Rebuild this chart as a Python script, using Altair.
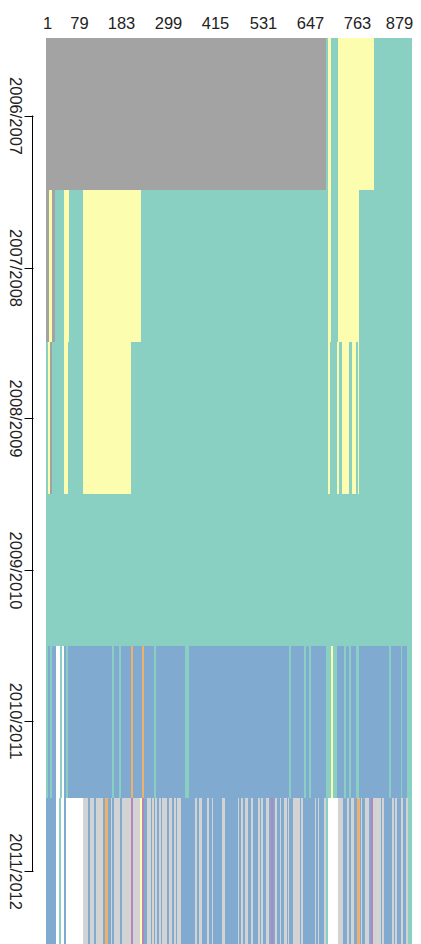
import altair as alt
import pandas as pd

years = ["2006/2007", "2007/2008", "2008/2009", "2009/2010", "2010/2011", "2011/2012"]
tick_rows = [0.51, 1.51, 2.5, 3.5, 4.49, 5.48]
column_ticks = [1, 79, 183, 299, 415, 531, 647, 763, 879]
first_col = -2.2
last_col = 899

T, Y, G, B, L, O, P, W = "teal", "yellow", "gray", "blue", "light", "orange", "purple", "white"
state_names = [T, Y, G, B, L, O, P, W]
state_colors = ["#89CFC2", "#FDFDB0", "#A3A3A3", "#81AAD1", "#D3D3D3", "#F0B06A", "#B884BC", "#FFFFFF"]

row0_states = [G, T, Y, T, Y, T]
row0_ends = [688, 691, 700, 716, 805, 899]

row1_states = [G, Y, G, T, Y, T, Y, T, Y, T, Y, T]
row1_ends = [6, 12, 19, 43, 55, 88, 231, 691, 700, 716, 768, 899]

row2_states = [T, Y, G, T, Y, T, Y, T, Y, T, Y, T, Y, T, Y, T, Y, T]
row2_ends = [3, 8, 12, 43, 53, 88, 207, 691, 696, 715, 720, 727, 743, 752, 760, 765, 769, 899]

row3_states = [T]
row3_ends = [899]

row4_states = [T, B, T, B, W, T, W, B, T, B, T, B, T, B, O, B, O, B, T, B, T,
               B, T, B, T, B, T, B, T, Y, T, B, T, B, T, B, T, B, T, B, T, B, T]
row4_ends = [2, 7, 12, 22, 32, 37, 43, 48, 52, 161, 165, 178, 183, 207, 211, 235, 239, 263, 268, 341, 349,
             597, 602, 634, 639, 646, 651, 688, 699, 704, 715, 732, 737, 744, 748, 760, 768, 842, 847, 871, 875, 887, 899]

row5_pairs = [
    (B, 22), (W, 31), (T, 34), (W, 43), (B, 47), (W, 88), (L, 101), (B, 105), (L, 117), (B, 121),
    (L, 138), (B, 143), (O, 150), (B, 157), (L, 161), (B, 166), (L, 179), (B, 186), (L, 207), (P, 212),
    (L, 230), (Y, 234), (P, 239), (B, 247), (L, 256), (B, 259), (L, 263), (B, 267), (L, 271), (B, 276),
    (L, 280), (B, 284), (L, 296), (B, 300), (L, 308), (B, 313), (L, 317), (B, 321), (L, 329), (B, 365),
    (L, 370), (B, 374), (L, 382), (B, 394), (L, 399), (B, 406), (L, 410), (B, 430), (L, 438), (B, 470),
    (L, 474), (B, 479), (L, 484), (B, 488), (L, 496), (B, 503), (L, 508), (B, 519), (L, 525), (B, 528),
    (L, 532), (B, 540), (L, 548), (B, 552), (P, 557), (B, 562), (L, 566), (B, 573), (L, 577), (B, 585),
    (L, 590), (B, 593), (L, 597), (B, 605), (L, 622), (B, 626), (L, 630), (B, 659), (L, 663), (B, 667),
    (L, 671), (B, 682), (L, 688), (T, 693), (W, 716), (L, 728), (B, 740), (L, 744), (B, 748), (L, 756),
    (B, 764), (O, 770), (B, 773), (L, 777), (B, 784), (L, 793), (B, 797), (P, 802), (L, 822), (B, 825),
    (L, 829), (B, 850), (L, 854), (B, 858), (L, 863), (B, 873), (L, 878), (B, 883), (L, 888), (B, 890),
    (T, 899),
]

rows = [
    list(zip(row0_states, row0_ends)),
    list(zip(row1_states, row1_ends)),
    list(zip(row2_states, row2_ends)),
    list(zip(row3_states, row3_ends)),
    list(zip(row4_states, row4_ends)),
    row5_pairs,
]

records = []
for r, segs in enumerate(rows):
    start = first_col
    for state, end in segs:
        records.append({"c0": start, "c1": end, "r0": r, "r1": r + 1, "state": state})
        start = end
df = pd.DataFrame(records)

FONT = "Liberation Sans"
x_scale = alt.Scale(domain=[first_col, last_col], nice=False, zero=False, round=True)
y_scale = alt.Scale(domain=[0, 5.96], reverse=True, nice=False, zero=False)

label_expr = "[" + ",".join(f"'{y}'" for y in years) + "][round(datum.value-0.5)]"

y_axis = alt.Axis(
    orient="left", values=tick_rows, labelExpr=label_expr, title=None, grid=False, domain=False,
    offset=13, tickSize=9, tickColor="#000000", tickWidth=1, labelAngle=90, labelAlign="center",
    labelBaseline="top", labelFont=FONT, labelFontSize=16.5, labelColor="#222222",
    labelPadding=1.5, labelOverlap=False)

cells = alt.Chart(df).mark_rect(clip=True, strokeWidth=0).encode(
    x=alt.X("c0:Q", scale=x_scale, axis=alt.Axis(
        orient="top", values=column_ticks, format="d", title=None, grid=False, domain=False,
        ticks=False, labelFont=FONT, labelFontSize=16.5, labelColor="#222222", labelPadding=7,
        labelOverlap=False, labelFlush=False,
        labelOffset={"expr": "datum.value == 879 ? -5 : 0"})),
    x2="c1:Q",
    y=alt.Y("r0:Q", scale=y_scale, axis=y_axis),
    y2="r1:Q",
    color=alt.Color("state:N", scale=alt.Scale(domain=state_names, range=state_colors), legend=None),
)

spine_df = pd.DataFrame({"a": [tick_rows[0]], "b": [tick_rows[-1]]})
spine = alt.Chart(spine_df).mark_rule(color="#000000", strokeWidth=1).encode(
    x=alt.value(-13.5),
    y=alt.Y("a:Q", scale=y_scale, axis=y_axis),
    y2="b:Q",
)

chart = (cells + spine).properties(
    width=366, height=906,
    padding={"left": 38, "top": 30, "right": 1, "bottom": 0},
    autosize=alt.AutoSizeParams(type="none"),
).configure_view(stroke=None)

chart.save("out.html", embed_options={"renderer": "svg", "actions": False})
